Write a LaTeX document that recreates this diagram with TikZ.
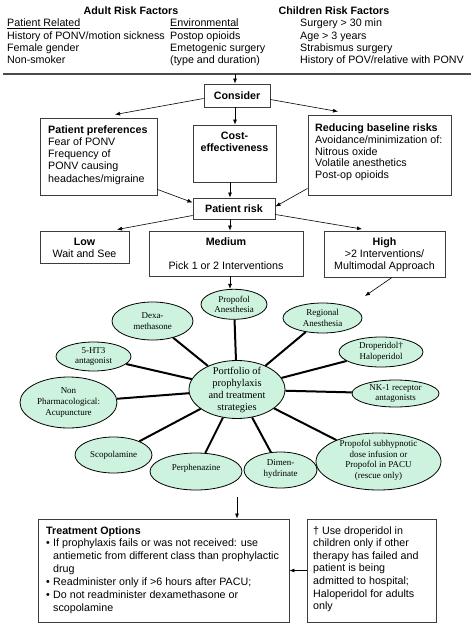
\documentclass[tikz,border=0pt]{standalone}
\usepackage{fontspec}
\setmainfont{Liberation Sans}
\newfontfamily\tms{Liberation Serif}
\usetikzlibrary{shapes.geometric,arrows.meta}
\definecolor{mint}{RGB}{205,243,222}
\definecolor{boxgray}{RGB}{60,60,60}
\tikzset{
  box/.style={draw=boxgray, line width=0.9pt, inner sep=0pt},
  txt/.style={inner sep=0pt, font=\fontsize{10.7}{12.3}\selectfont},
  arr/.style={-{Latex[length=5pt,width=4pt]}, line width=0.6pt},
  ell/.style={ellipse, draw=black, line width=0.8pt, fill=mint, inner sep=0pt},
  etxt/.style={inner sep=0pt, align=center, font=\tms\fontsize{9}{10.5}\selectfont},
  spoke/.style={line width=2pt},
}
\begin{document}
\begin{tikzpicture}[x=1pt,y=-1pt]
\useasboundingbox (0,0) rectangle (474,624);
% ---------- header ----------
\node[txt, anchor=base, font=\bfseries\fontsize{10.7}{12.3}\selectfont] (adult) at (131,14.5) {Adult Risk Factors};
\node[txt, anchor=base, font=\bfseries\fontsize{10.7}{12.3}\selectfont] (child) at (334,14.5) {Children Risk Factors};
\node[txt, anchor=base west, align=left] (col1) at (7,63.7) {\underline{Patient Related}\\History of PONV/motion sickness\\Female gender\\Non-smoker};
\node[txt, anchor=base west, align=left] (col2) at (170,63.7) {\underline{Environmental}\\Postop opioids\\Emetogenic surgery\\(type and duration)};
\node[txt, anchor=base west, align=left] (col3) at (300,63.7) {Surgery > 30 min\\Age > 3 years\\Strabismus surgery\\History of POV/relative with PONV};
\coordinate (hl1) at (3,74);
\coordinate (hl2) at (471,74);
\coordinate (hlm) at (235,74);
\draw[line width=1.2pt, black!70] (hl1) -- (hl2);
% ---------- boxes ----------
\node[box, minimum width=66pt, minimum height=23pt] (cons) at (237,95.5) {};
\node[txt, anchor=base, font=\bfseries\fontsize{10.7}{12.3}\selectfont] (const) at (237,99.5) {Consider};
\node[box, minimum width=117pt, minimum height=77pt] (pp) at (98.5,156.5) {};
\node[txt, anchor=base west, align=left] (ppt) at (48,182.2) {\textbf{Patient preferences}\\Fear of PONV\\Frequency of\\PONV causing\\headaches/migraine};
\node[box, minimum width=83pt, minimum height=57pt] (cost) at (234.5,153.5) {};
\node[txt, anchor=base, align=center, font=\bfseries\fontsize{10.7}{12.7}\selectfont] (costt) at (234.5,151.7) {Cost-\\effectiveness};
\node[box, minimum width=143pt, minimum height=80pt] (red) at (379.5,155) {};
\node[txt, anchor=base west, align=left, font=\fontsize{10.7}{11.8}\selectfont] (redt) at (315,178.7) {\textbf{Reducing baseline risks}\\Avoidance/minimization of:\\Nitrous oxide\\Volatile anesthetics\\Post-op opioids};
\node[box, minimum width=82pt, minimum height=21pt] (risk) at (234,208.5) {};
\node[txt, anchor=base, font=\bfseries\fontsize{10.7}{12.3}\selectfont] (riskt) at (234,212.3) {Patient risk};
\node[box, minimum width=89pt, minimum height=32pt] (low) at (84.5,247) {};
\node[txt, anchor=base, align=center] (lowt) at (84.5,257.3) {\textbf{Low}\\Wait and See};
\node[box, minimum width=154pt, minimum height=45pt] (med) at (226,253.5) {};
\node[txt, anchor=base, align=center, font=\fontsize{10.7}{24.8}\selectfont] (medt) at (226,269.8) {\textbf{Medium}\\Pick 1 or 2 Interventions};
\node[box, minimum width=121pt, minimum height=46pt] (high) at (384.5,254) {};
\node[txt, anchor=base, align=center, font=\fontsize{10.7}{12.4}\selectfont] (hight) at (384.5,269.8) {\textbf{High}\\>2 Interventions/\\Multimodal Approach};
% ---------- arrows top ----------
\draw[arr] (hlm) -- (hlm |- cons.north);
\draw[arr] ([yshift=-3pt]cons.west) -- ([xshift=16.5pt,yshift=3pt]pp.north);
\draw[arr] ([yshift=-4pt]cons.east) -- ([xshift=-41.5pt,yshift=3pt]red.north);
\coordinate (a1) at ([xshift=-2pt]cons.south);
\draw[arr] (a1) -- (a1 |- cost.north);
\draw[arr] ([yshift=6pt]pp.south east) -- ([yshift=6pt]risk.west);
\draw[arr] ([yshift=7pt]red.south west) -- ([yshift=2pt]risk.east);
\coordinate (a2) at ([xshift=-4.5pt]cost.south);
\draw[arr] (a2) -- (a2 |- risk.north);
\draw[arr] ([yshift=-7pt]risk.west) -- ([xshift=32.5pt,yshift=1pt]low.north);
\coordinate (a3) at ([xshift=-4pt]risk.south);
\draw[arr] (a3) -- (a3 |- med.north);
\draw[arr] ([yshift=-6pt]risk.east) -- ([xshift=-22.5pt,yshift=1.5pt]high.north);
% ---------- ellipses ----------
\node[ell, minimum width=96pt, minimum height=58pt] (port) at (237,389.5) {};
\node[ell, minimum width=66pt, minimum height=30pt] (prop) at (234,304.3) {};
\node[ell, minimum width=81pt, minimum height=38pt] (dexa) at (152.5,321) {};
\node[ell, minimum width=75pt, minimum height=29pt] (ht3) at (93.5,356.5) {};
\node[ell, minimum width=97pt, minimum height=51pt] (nonph) at (68.5,402.5) {};
\node[ell, minimum width=77pt, minimum height=36pt] (scop) at (113.5,455) {};
\node[ell, minimum width=92pt, minimum height=37pt] (perph) at (196,471.5) {};
\node[ell, minimum width=73pt, minimum height=36pt] (dimen) at (280.5,470) {};
\node[ell, minimum width=125pt, minimum height=57pt] (psub) at (378.5,461.5) {};
\node[ell, minimum width=87pt, minimum height=27pt] (nk1) at (395.5,393.5) {};
\node[ell, minimum width=84pt, minimum height=30pt] (drop) at (381,352) {};
\node[ell, minimum width=79pt, minimum height=30pt] (reg) at (322.5,318) {};
\foreach \e in {prop,dexa,ht3,nonph,scop,perph,dimen,psub,nk1,drop,reg}
  \draw[spoke] (port) -- (\e);
\node[etxt, font=\tms\fontsize{10.4}{11.7}\selectfont] (portt) at (237,390) {Portfolio of\\prophylaxis\\and treatment\\strategies};
\node[etxt] (propt) at (234,304.3) {Propofol\\Anesthesia};
\node[etxt] (dexat) at (152.5,321) {Dexa-\\methasone};
\node[etxt] (ht3t) at (93.5,356.5) {5-HT3\\antagonist};
\node[etxt, font=\tms\fontsize{9}{11}\selectfont] (nonpht) at (68.5,403) {Non\\Pharmacological:\\Acupuncture};
\node[etxt] (scopt) at (113.5,455.5) {Scopolamine};
\node[etxt] (perpht) at (196,468.5) {Perphenazine};
\node[etxt] (dimient) at (280.5,469) {Dimen-\\hydrinate};
\node[etxt] (psubt) at (378.5,460.5) {Propofol subhypnotic\\dose infusion or\\Propofol in PACU\\(rescue only)};
\node[etxt] (nk1t) at (395.5,393.5) {NK-1 receptor\\antagonists};
\node[etxt] (dropt) at (381,352) {Droperidol†\\Haloperidol};
\node[etxt] (regt) at (322.5,318) {Regional\\Anesthesia};
\coordinate (a4) at ([xshift=4pt]med.south);
\draw[arr] (a4) -- (a4 |- prop.north);
\coordinate (hend) at (365,296);
\draw[arr] ([xshift=7.5pt]high.south) -- (hend);
% ---------- bottom ----------
\node[box, minimum width=251pt, minimum height=103pt] (treat) at (163.5,570.5) {};
\node[txt, anchor=base west, align=left, font=\fontsize{10.7}{12.9}\selectfont] (treatt) at (46,611.4) {\textbf{Treatment Options}\\
\makebox[7pt][l]{\textbullet}If prophylaxis fails or was not received: use\\
\hspace*{7pt}antiemetic from different class than prophylactic\\
\hspace*{7pt}drug\\
\makebox[7pt][l]{\textbullet}Readminister only if >6 hours after PACU;\\
\makebox[7pt][l]{\textbullet}Do not readminister dexamethasone or\\
\hspace*{7pt}scopolamine};
\node[box, minimum width=129pt, minimum height=103pt] (note) at (371.5,570.5) {};
\node[txt, anchor=base west, align=left, font=\fontsize{10.7}{12.6}\selectfont] (notet) at (313,609.6) {† Use droperidol in\\children only if other\\therapy has failed and\\patient is being\\admitted to hospital;\\Haloperidol for adults\\only};
\coordinate (pstart) at (237,497);
\draw[arr] (pstart) -- (pstart |- treat.north);
\draw[arr] (note.west) -- (treat.east);
\end{tikzpicture}
\end{document}
